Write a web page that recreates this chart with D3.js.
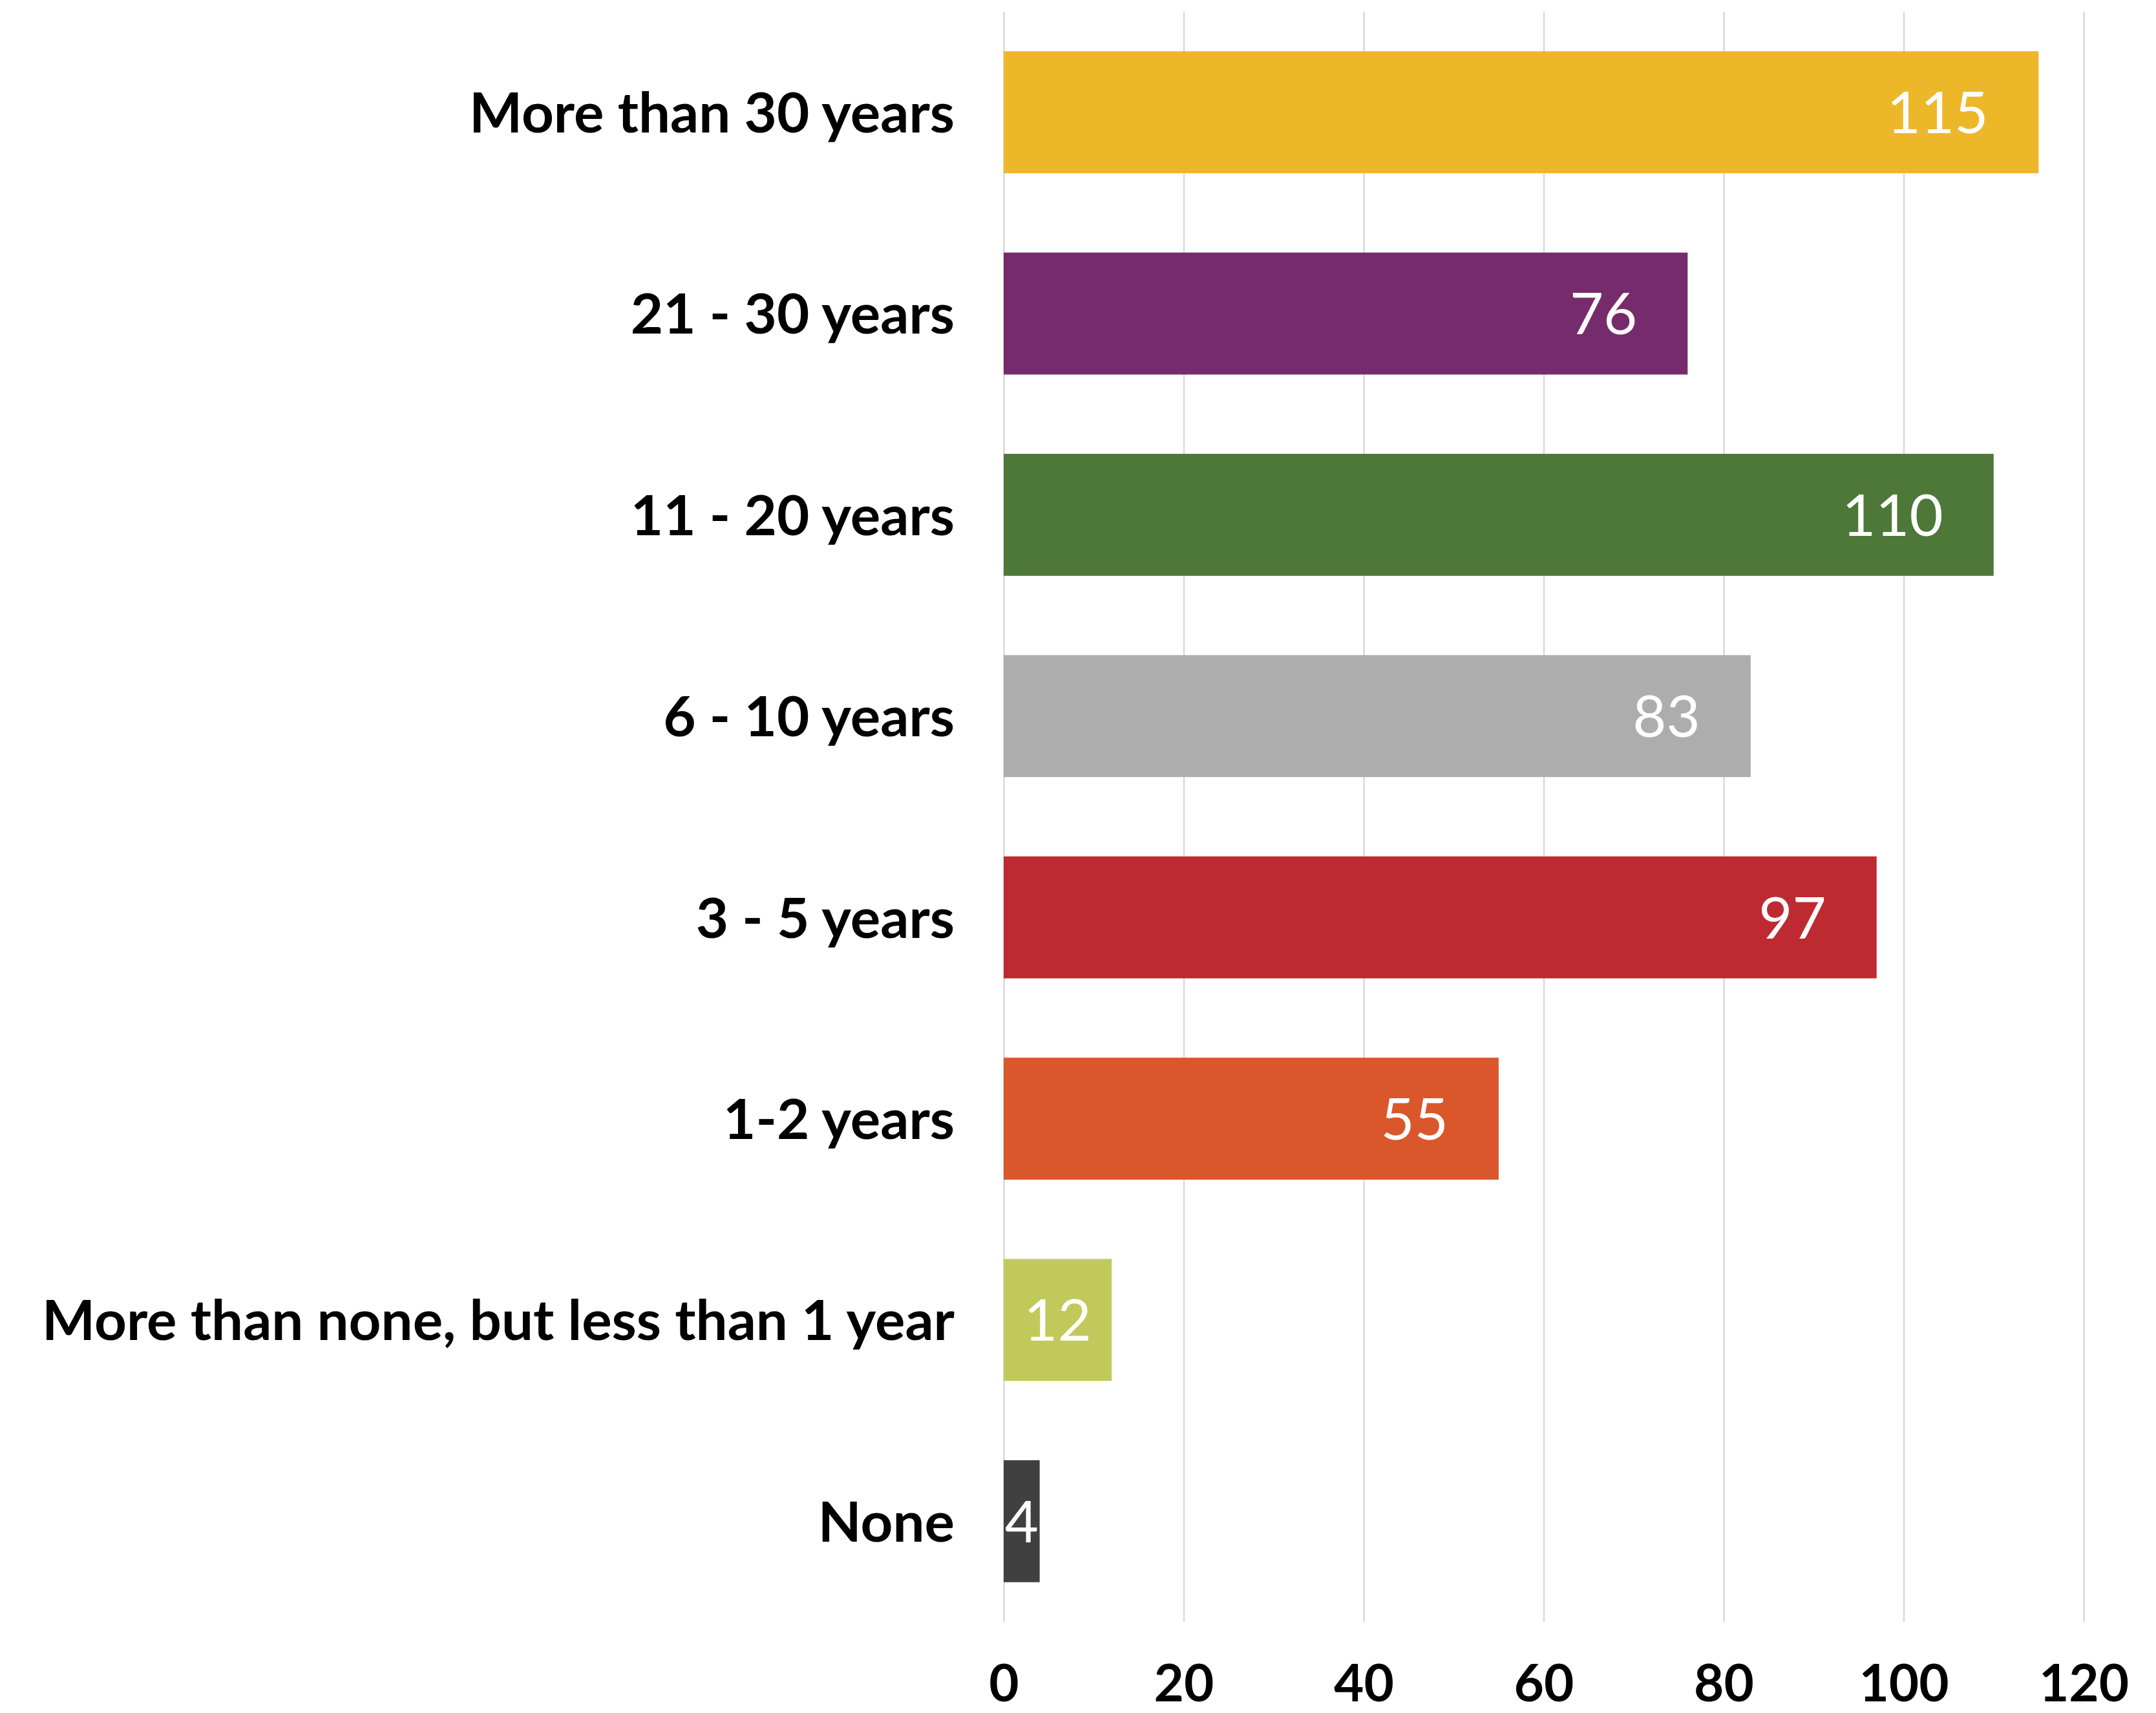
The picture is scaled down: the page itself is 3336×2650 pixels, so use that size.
<!DOCTYPE html>
<html>
<head>
<meta charset="utf-8">
<script src="https://cdn.jsdelivr.net/npm/d3@7"></script>
<style>
  html, body { margin: 0; padding: 0; background: #ffffff; }
  svg { display: block; }
</style>
</head>
<body>
<div id="chart"></div>
<script>
const categories = [
  "More than 30 years",
  "21 - 30 years",
  "11 - 20 years",
  "6 - 10 years",
  "3 - 5 years",
  "1-2 years",
  "More than none, but less than 1 year",
  "None"
];
const counts = [115, 76, 110, 83, 97, 55, 12, 4];
const barColors = ["#EDB72A", "#762C6C", "#4D7838", "#ADADAD", "#BE2A31", "#D9572A", "#C1C95A", "#404040"];
const xTicks = [0, 20, 40, 60, 80, 100, 120];

const width = 3336, height = 2650;
const margin = { top: 18, right: 112, bottom: 141, left: 1553 };
const plotW = width - margin.left - margin.right;
const plotH = height - margin.top - margin.bottom;

const svg = d3.select("#chart").append("svg")
  .attr("width", width)
  .attr("height", height);

svg.append("rect").attr("width", width).attr("height", height).attr("fill", "#ffffff");

const g = svg.append("g").attr("transform", `translate(${margin.left},${margin.top})`);

const x = d3.scaleLinear().domain([0, 120]).range([0, plotW]);
const y = d3.scaleBand().domain(categories).range([0, plotH])
  .paddingInner(0.394).paddingOuter(0.197);

// gridlines
const grid = g.append("g")
  .attr("transform", `translate(0,${plotH})`)
  .call(d3.axisBottom(x).tickValues(xTicks).tickSizeInner(-plotH).tickSizeOuter(0).tickFormat(""));
grid.select(".domain").remove();
grid.selectAll(".tick line").attr("stroke", "#d9d9d9").attr("stroke-width", 2.5);

// bars
g.selectAll("rect.bar")
  .data(categories)
  .join("rect")
  .attr("class", "bar")
  .attr("x", x(0))
  .attr("y", d => y(d))
  .attr("width", (d, i) => x(counts[i]) - x(0))
  .attr("height", y.bandwidth())
  .attr("fill", (d, i) => barColors[i]);

// value labels, inside end (centred when the bar is too short)
const inset = 78;
g.selectAll("text.value")
  .data(categories)
  .join("text")
  .attr("class", "value")
  .attr("y", d => y(d) + y.bandwidth() / 2)
  .attr("dy", "0.36em")
  .style("font-family", "Lato, 'Open Sans', sans-serif")
  .style("font-size", "90px")
  .style("fill", "#ffffff")
  .text((d, i) => counts[i])
  .each(function (d, i) {
    const self = d3.select(this);
    const w = this.getComputedTextLength();
    const barW = x(counts[i]) - x(0);
    if (w + 2 * inset > barW) {
      self.attr("x", x(0) + barW / 2).attr("text-anchor", "middle");
    } else {
      self.attr("x", x(counts[i]) - inset).attr("text-anchor", "end");
    }
  });

// category labels
g.selectAll("text.cat")
  .data(categories)
  .join("text")
  .attr("class", "cat")
  .attr("x", -76)
  .attr("y", d => y(d) + y.bandwidth() / 2)
  .attr("dy", "0.36em")
  .attr("text-anchor", "end")
  .style("font-family", "Lato, 'Open Sans', sans-serif")
  .style("font-weight", "bold")
  .style("font-size", "87px")
  .style("fill", "#000000")
  .text(d => d);

// x axis tick labels
const xAxis = g.append("g")
  .attr("transform", `translate(0,${plotH})`)
  .call(d3.axisBottom(x).tickValues(xTicks).tickSize(0).tickPadding(66));
xAxis.select(".domain").remove();
xAxis.selectAll(".tick text")
  .style("font-family", "Lato, 'Open Sans', sans-serif")
  .style("font-weight", "bold")
  .style("font-size", "80px")
  .style("fill", "#000000");
</script>
</body>
</html>
